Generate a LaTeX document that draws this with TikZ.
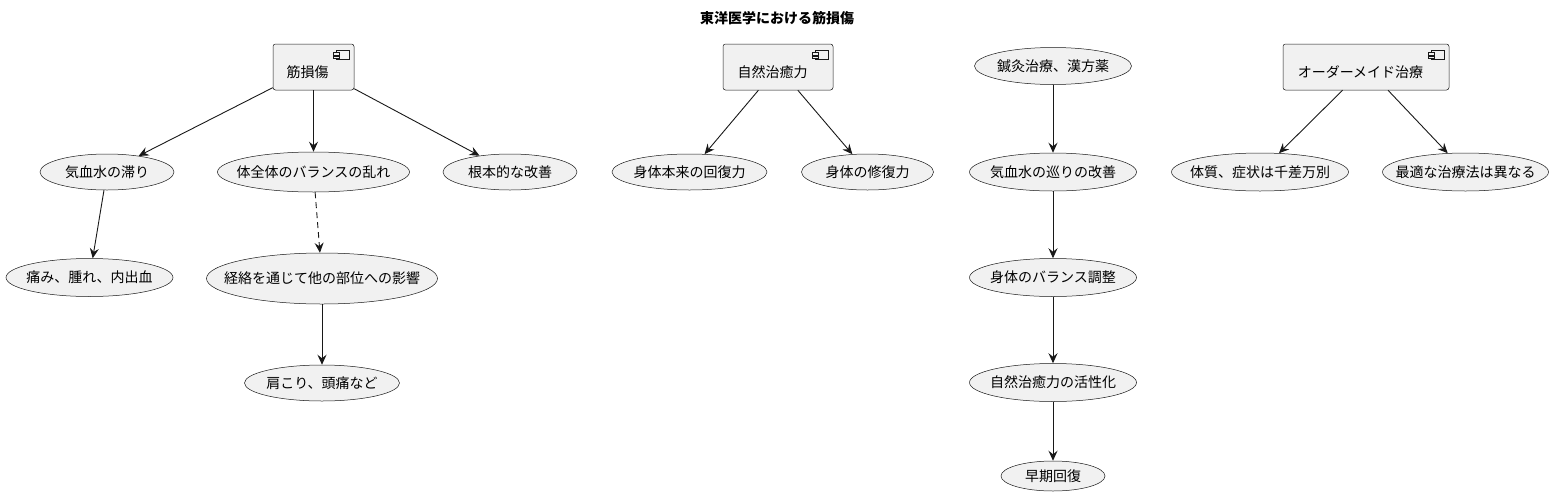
\documentclass[tikz,border=0pt]{standalone}
\usepackage{fontspec}
\setmainfont{Noto Sans CJK JP}
\usetikzlibrary{shapes.geometric,arrows.meta}
\definecolor{bgc}{HTML}{F1F1F1}
\definecolor{lnc}{HTML}{181818}
\tikzset{
  comp/.style={draw=lnc, fill=bgc, line width=0.5pt, rounded corners=2.5pt, inner sep=0pt, minimum height=46pt},
  uc/.style={ellipse, draw=lnc, fill=bgc, line width=0.5pt, inner sep=0pt},
  conn/.style={draw=lnc, line width=0.9pt, -{Stealth[length=10pt,width=9pt,inset=3.5pt]}},
  cicon/.pic={
    \draw[lnc, fill=bgc, line width=0.5pt] (-18,6.7) rectangle ++(13,9);
    \draw[lnc, fill=bgc, line width=0.5pt] (-21,8.6) rectangle ++(6,2.4);
    \draw[lnc, fill=bgc, line width=0.5pt] (-21,12.4) rectangle ++(6,2.4);
  }
}
\begin{document}
\begin{tikzpicture}[x=1pt, y=-1pt, font=\fontsize{14pt}{16pt}\selectfont]
\useasboundingbox (0,0) rectangle (1567,496);
\node (title) at (777,18) {\bfseries 東洋医学における筋損傷};

% components
\node[comp, minimum width=81pt, label={[xshift=-6pt, yshift=-5.5pt]center:筋損傷}] (b1) at (313.5,67) {};
\node[comp, minimum width=110pt, label={[xshift=-5.5pt, yshift=-5.5pt]center:自然治癒力}] (b2) at (778,67) {};
\node[comp, minimum width=166pt, label={[xshift=-5.5pt, yshift=-5.5pt]center:オーダーメイド治療}] (b3) at (1366,67) {};
\pic at (b1.north east) {cicon};
\pic at (b2.north east) {cicon};
\pic at (b3.north east) {cicon};

% use cases
\node[uc, minimum width=134pt, minimum height=36pt] (e1) at (107,172) {\makebox[0pt]{気血水の滞り}};
\node[uc, minimum width=192pt, minimum height=40pt] (e2) at (313.5,172) {\makebox[0pt]{体全体のバランスの乱れ}};
\node[uc, minimum width=134pt, minimum height=36pt] (e3) at (510,172) {\makebox[0pt]{根本的な改善}};
\node[uc, minimum width=155pt, minimum height=36pt] (e4) at (689.5,172) {\makebox[0pt]{身体本来の回復力}};
\node[uc, minimum width=132pt, minimum height=36pt] (e5) at (867.5,172) {\makebox[0pt]{身体の修復力}};
\node[uc, minimum width=157pt, minimum height=37pt] (s1) at (1053,66) {\makebox[0pt]{鍼灸治療、漢方薬}};
\node[uc, minimum width=167pt, minimum height=38pt] (s2) at (1053,172) {\makebox[0pt]{気血水の巡りの改善}};
\node[uc, minimum width=177pt, minimum height=38pt] (e6) at (1260,172) {\makebox[0pt]{体質、症状は千差万別}};
\node[uc, minimum width=166pt, minimum height=38pt] (e7) at (1465.5,172) {\makebox[0pt]{最適な治療法は異なる}};
\node[uc, minimum width=167pt, minimum height=38pt] (e8) at (89.5,277.5) {\makebox[0pt]{痛み、腫れ、内出血}};
\node[uc, minimum width=231pt, minimum height=51pt] (e9) at (322,278.5) {\makebox[0pt]{経絡を通じて他の部位への影響}};
\node[uc, minimum width=167pt, minimum height=38pt] (s3) at (1053,277.5) {\makebox[0pt]{身体のバランス調整}};
\node[uc, minimum width=155pt, minimum height=36pt] (e10) at (322,383) {\makebox[0pt]{肩こり、頭痛など}};
\node[uc, minimum width=167pt, minimum height=38pt] (s4) at (1053,382.5) {\makebox[0pt]{自然治癒力の活性化}};
\node[uc, minimum width=104pt, minimum height=30pt] (s5) at (1053,476) {\makebox[0pt]{早期回復}};

% connectors
\draw[conn] (b1) -- (e1);
\draw[conn] (b1) -- (e2);
\draw[conn] (b1) -- (e3);
\draw[conn] (e1) -- (e8);
\draw[conn, dash pattern=on 6pt off 4pt] (e2) -- (e9);
\draw[conn] (e9) -- (e10);
\draw[conn] (b2) -- (e4);
\draw[conn] (b2) -- (e5);
\draw[conn] (s1) -- (s2);
\draw[conn] (s2) -- (s3);
\draw[conn] (s3) -- (s4);
\draw[conn] (s4) -- (s5);
\draw[conn] (b3) -- (e6);
\draw[conn] (b3) -- (e7);
\end{tikzpicture}
\end{document}
